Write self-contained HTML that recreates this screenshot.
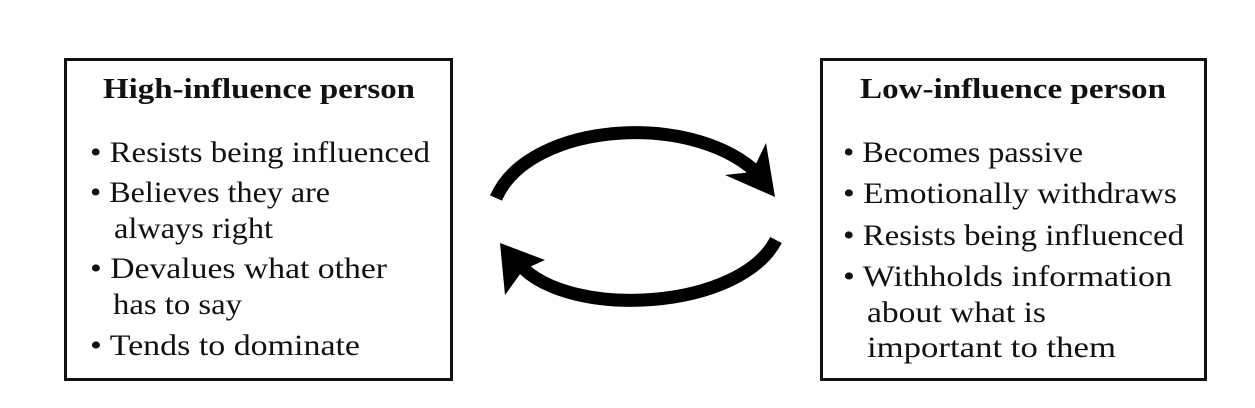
<!DOCTYPE html>
<html><head><meta charset="utf-8"><style>
html,body{margin:0;padding:0;background:#fff;}
svg{display:block;}
text{font-family:"Liberation Serif",serif;font-size:30px;fill:#111;}
.t{font-weight:bold;font-size:29px;}
</style></head><body>
<svg width="1255" height="408" viewBox="0 0 1255 408">
<rect x="65.5" y="59.5" width="386" height="320" fill="none" stroke="#111" stroke-width="3"/>
<rect x="821.5" y="59.5" width="384" height="320" fill="none" stroke="#111" stroke-width="3"/>
<text class="t" x="103" y="98" textLength="312" lengthAdjust="spacingAndGlyphs">High-influence person</text>
<text x="90" y="162" textLength="340" lengthAdjust="spacingAndGlyphs">• Resists being influenced</text>
<text x="90" y="202" textLength="240" lengthAdjust="spacingAndGlyphs">• Believes they are</text>
<text x="114" y="238" textLength="159" lengthAdjust="spacingAndGlyphs">always right</text>
<text x="90" y="278" textLength="297" lengthAdjust="spacingAndGlyphs">• Devalues what other</text>
<text x="113" y="314" textLength="129" lengthAdjust="spacingAndGlyphs">has to say</text>
<text x="90" y="355" textLength="270" lengthAdjust="spacingAndGlyphs">• Tends to dominate</text>
<text class="t" x="860" y="98" textLength="306" lengthAdjust="spacingAndGlyphs">Low-influence person</text>
<text x="843" y="162" textLength="240" lengthAdjust="spacingAndGlyphs">• Becomes passive</text>
<text x="843" y="203" textLength="334" lengthAdjust="spacingAndGlyphs">• Emotionally withdraws</text>
<text x="843" y="245" textLength="341" lengthAdjust="spacingAndGlyphs">• Resists being influenced</text>
<text x="843" y="286" textLength="329" lengthAdjust="spacingAndGlyphs">• Withholds information</text>
<text x="867" y="322" textLength="179" lengthAdjust="spacingAndGlyphs">about what is</text>
<text x="867" y="357" textLength="249" lengthAdjust="spacingAndGlyphs">important to them</text>
<path d="M496,198 C530,120 700,110 762,178" fill="none" stroke="#000" stroke-width="13"/>
<path d="M766,143 L775,197 L725,175 L752,172 Z" fill="#000"/>
<path d="M776,240 C740,310 570,320 520,265" fill="none" stroke="#000" stroke-width="13"/>
<path d="M500,243 L545,260 L523,270 L505,295 Z" fill="#000"/>
</svg>
</body></html>
